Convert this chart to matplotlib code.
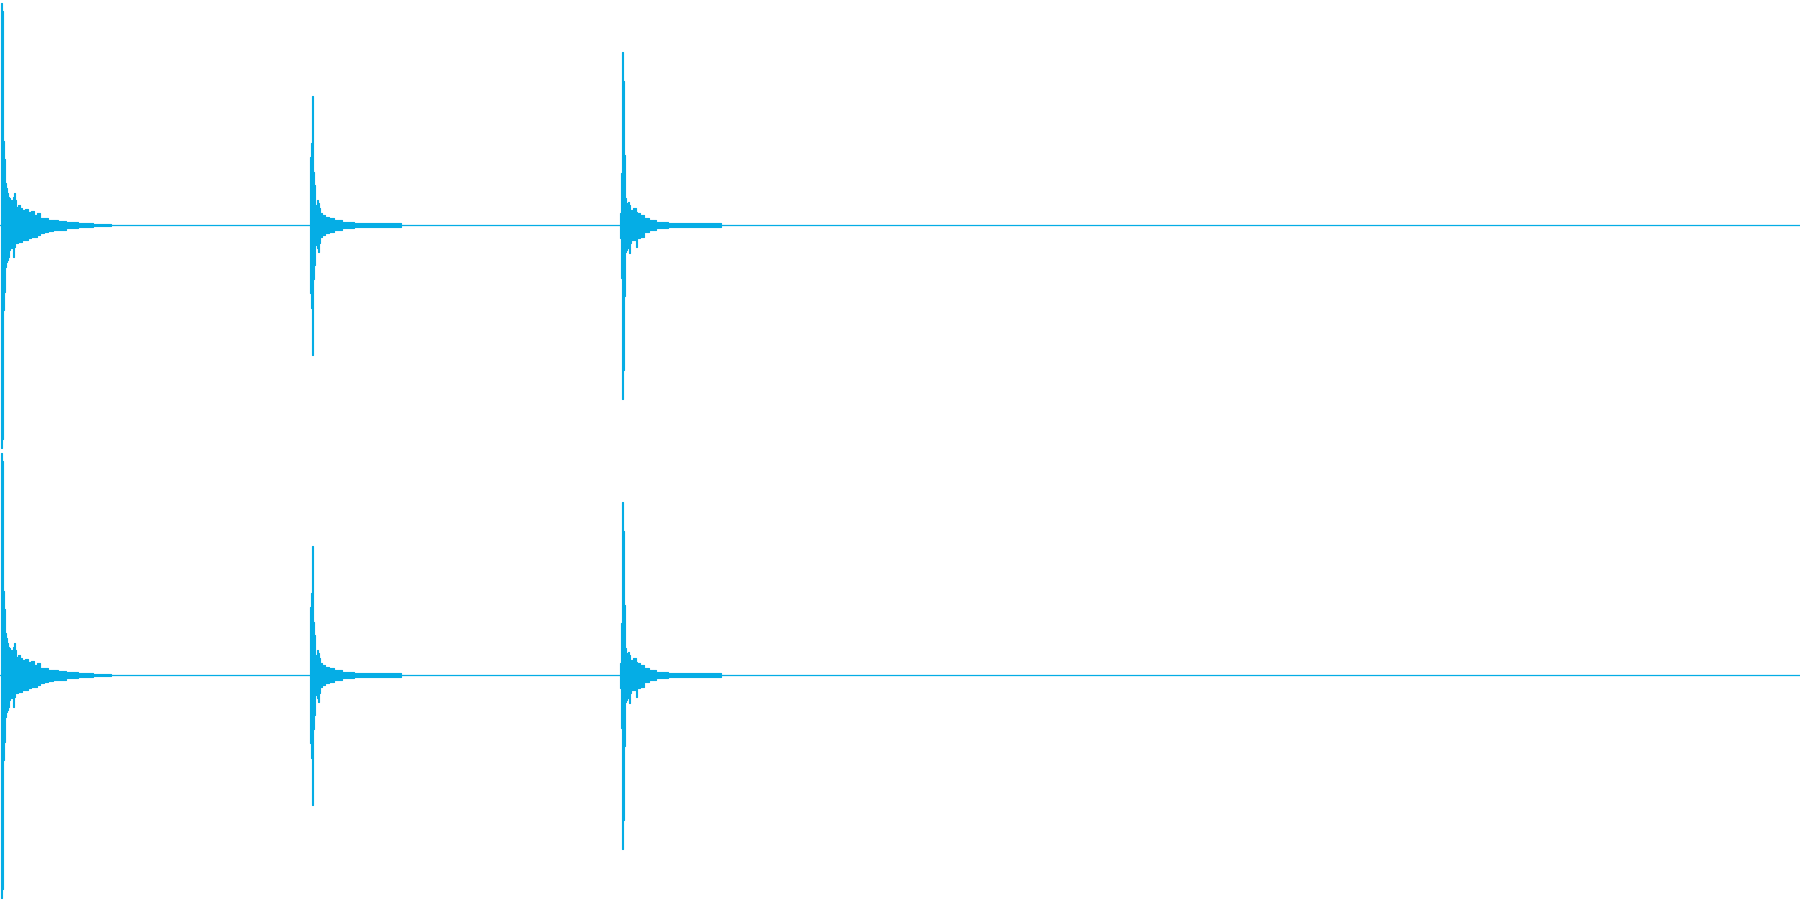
import matplotlib
matplotlib.use('Agg')
import matplotlib.pyplot as plt
import numpy as np

# waveform envelope read per pixel column (amplitude, full scale = 1)
cols1 = [0, 1, 2, 3, 4, 5, 6, 7, 8, 9, 10, 11, 12, 13, 14, 15, 16, 18, 20, 23, 26, 29, 32, 35, 38, 41, 45, 50, 55, 60, 70, 85, 100, 110]
up1 = [0.124, 0.987, 0.951, 0.373, 0.293, 0.187, 0.164, 0.142, 0.124, 0.12, 0.111, 0.111, 0.102, 0.124, 0.142, 0.111, 0.08,
       0.089, 0.076, 0.067, 0.071, 0.058, 0.062, 0.044, 0.053, 0.031, 0.031, 0.022, 0.022, 0.018, 0.013, 0.009, 0.004, 0.004]
lo1 = [-0.124, -0.991, -0.951, -0.378, -0.298, -0.187, -0.164, -0.156, -0.142, -0.111, -0.102, -0.102, -0.089, -0.142, -0.098,
       -0.08, -0.08, -0.076, -0.076, -0.067, -0.067, -0.058, -0.053, -0.053, -0.044, -0.036, -0.031, -0.027, -0.022, -0.02,
       -0.013, -0.009, -0.004, -0.004]

cols2 = [309, 310, 311, 312, 313, 314, 315, 316, 317, 318, 319, 320, 323, 326, 331, 336, 346, 360, 385, 400]
up2 = [0.027, 0.302, 0.364, 0.573, 0.236, 0.178, 0.076, 0.089, 0.111, 0.098, 0.076, 0.053, 0.044, 0.036, 0.031, 0.022,
       0.013, 0.009, 0.009, 0.009]
lo2 = [-0.03, -0.302, -0.369, -0.578, -0.24, -0.178, -0.089, -0.08, -0.102, -0.12, -0.08, -0.053, -0.044, -0.036, -0.031,
       -0.022, -0.013, -0.009, -0.009, -0.009]

cols3 = [619, 620, 621, 622, 623, 624, 625, 626, 627, 628, 629, 630, 631, 634, 636, 637, 641, 646, 651, 660, 675, 700, 720]
up3 = [0.018, 0.053, 0.231, 0.769, 0.64, 0.311, 0.12, 0.098, 0.08, 0.102, 0.089, 0.067, 0.067, 0.076, 0.058, 0.053, 0.044,
       0.031, 0.022, 0.013, 0.009, 0.009, 0.009]
lo3 = [-0.018, -0.058, -0.236, -0.773, -0.644, -0.316, -0.12, -0.111, -0.089, -0.102, -0.124, -0.08, -0.067, -0.067, -0.098,
       -0.058, -0.053, -0.031, -0.022, -0.013, -0.009, -0.009, -0.009]

# both channels look the same
left = [(cols1, up1, lo1), (cols2, up2, lo2), (cols3, up3, lo3)]
right = [(cols1, up1, lo1), (cols2, up2, lo2), (cols3, up3, lo3)]

color = '#05ADE5'

fig = plt.figure(figsize=(18, 9), dpi=100)
for i, chan in enumerate([left, right]):
    ax = fig.add_axes([0, 0.5 - i * 0.5, 1, 0.5])
    ax.set_xlim(0, 1800)
    ax.set_ylim(-1, 1)
    ax.axis('off')
    ax.axhline(0, color=color, lw=0.9)
    for cols, up, lo in chan:
        x = np.array(cols) + 0.5
        ax.fill_between(x, lo, up, step='mid', color=color, lw=0.8, edgecolor=color)

fig.savefig('out.png', dpi=100, facecolor='white')
